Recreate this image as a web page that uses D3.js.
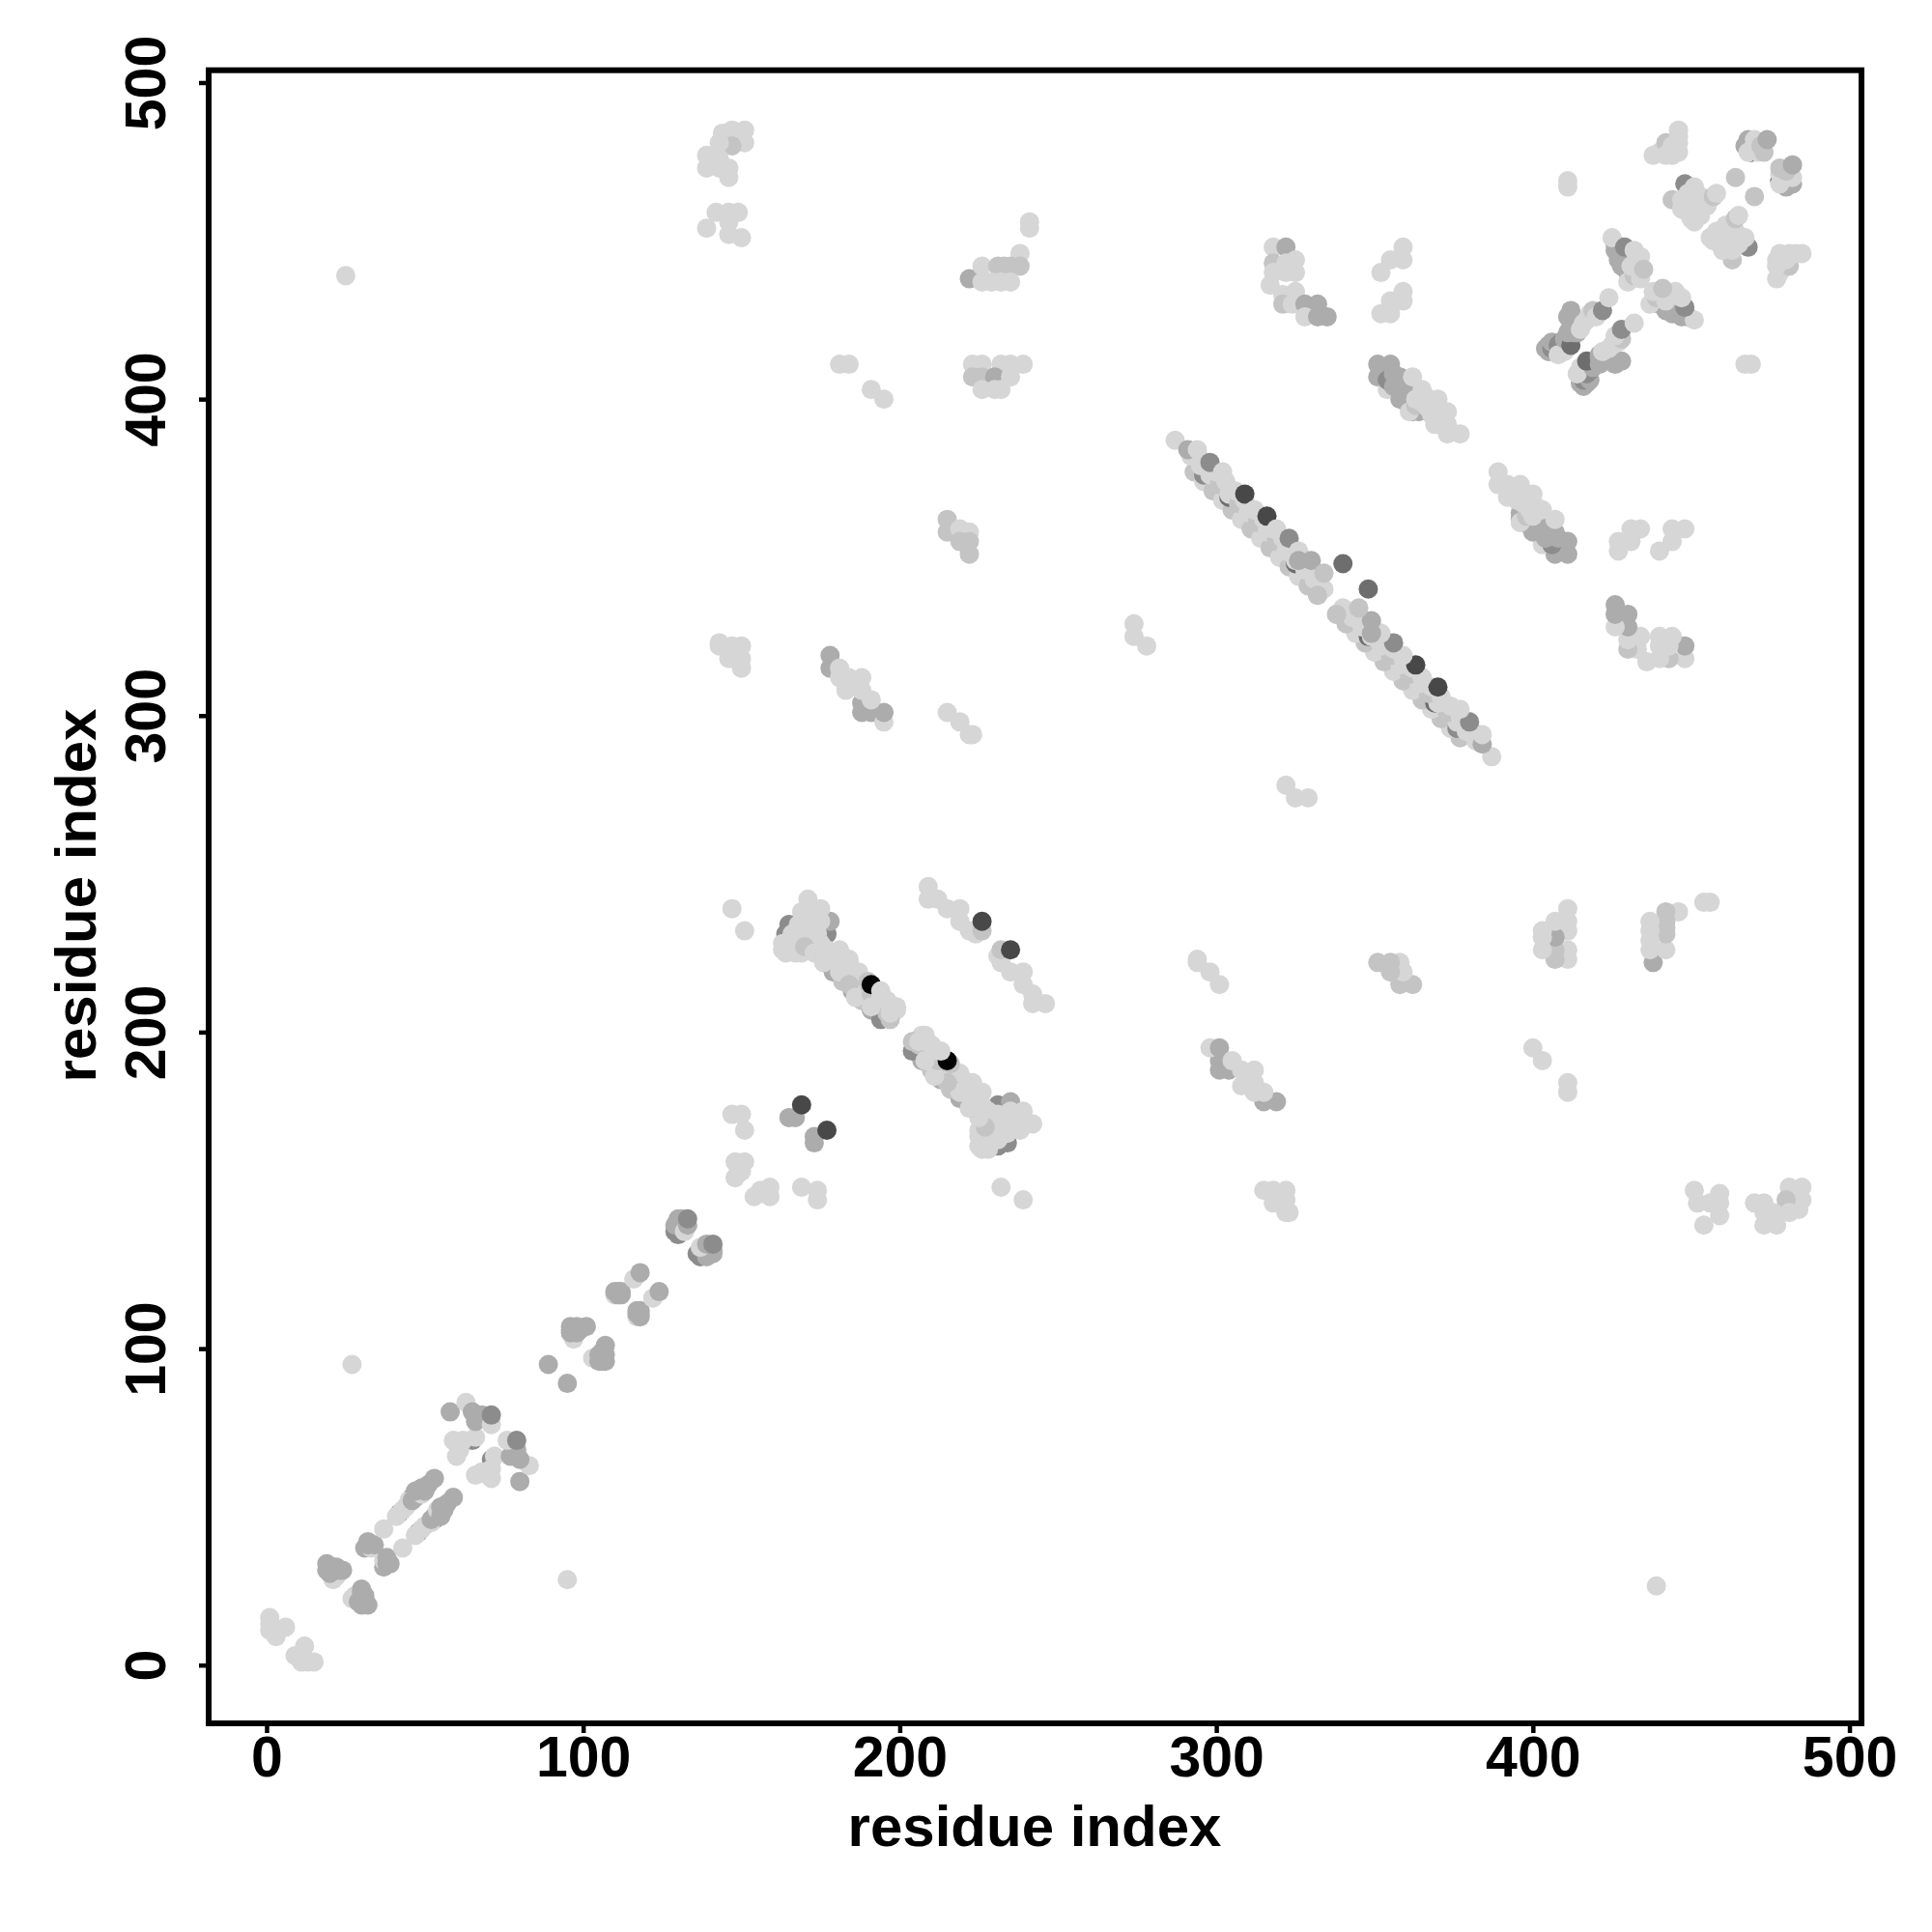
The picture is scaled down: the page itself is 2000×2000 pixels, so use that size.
<!DOCTYPE html>
<html>
<head>
<meta charset="utf-8">
<script src="https://cdn.jsdelivr.net/npm/d3@7/dist/d3.min.js"></script>
<style>
html,body{margin:0;padding:0;background:#fff}
svg{display:block}
text{font-family:"Liberation Sans",Arial,sans-serif;font-weight:bold;fill:#000}
</style>
</head>
<body>
<svg id="chart" width="2000" height="2000"></svg>
<script>
// grey levels of the contact marks
const L=214, M=196, A=172, G=140, D=110, K=72, B=4;

// each contact: [residue i, residue j, grey]; the map is symmetric so (j, i) is drawn too
const nTerminal=[[1,15,L],[1,13,L],[1,11,L],[3,9,L],[6,12,L]];
const helix20=[[21,27,L],[22,28,L],[21,29,L],[22,29,L],[19,32,A],[20,29,A],[20,30,A],[21,31,A],[22,31,A],[23,30,A],[24,30,A],[19,30,A]];
const strand30=[[31,37,A],[33,37,L],[32,38,A],[34,38,A],[32,39,A],[37,43,L],[42,48,A],[43,49,L],[41,47,L],[46,53,D],[44,50,L],[45,52,L],[47,53,A],[46,52,A],[49,54,L],[47,55,A],[50,55,A],[49,56,A],[51,57,A],[53,59,A]];
const strand60=[[65,71,G],[59,71,L],[60,70,L],[61,68,L],[62,71,L],[60,66,L],[66,72,L],[58,80,A],[63,83,L],[66,77,A],[65,80,A],[68,79,A],[71,76,L],[71,79,G]];
const strand90=[[89,95,A],[27,95,L],[96,107,A],[98,107,A],[97,103,L],[97,104,L],[97,105,L],[96,105,A],[98,105,A],[99,106,A],[96,106,A],[101,107,A]];
const strand110=[[110,117,L],[111,117,A],[110,118,A],[111,118,A],[112,117,A],[112,118,A],[116,122,L],[118,124,A]];
const strand130=[[129,137,G],[130,136,G],[130,137,G],[129,139,A],[130,141,A],[131,141,A],[132,137,L],[133,139,A],[133,141,G]];
const cluster150=[[147,174,L],[150,174,L],[151,169,L],[148,159,L],[151,159,L],[148,154,L],[150,156,L],[149,157,L],[165,173,A],[167,173,A],[169,177,K],[147,239,L],[151,232,L]];
const sheet165Blob=[[164,231,G],[165,234,G],[171,231,G],[177,231,G],[178,235,A],[163,226,L],[166,226,L],[163,228,L],[164,225,L],[167,225,L],[166,228,L],[168,228,L],[166,231,L],[169,231,L],[169,225,L],[172,228,L],[168,234,L],[170,235,L],[169,238,L],[171,242,L],[172,238,L],[173,235,L],[175,235,L],[174,231,L],[175,228,L],[175,239,L],[170,227,M],[173,225,L]];
const sheet165Lower=[[176,222,M],[179,219,A],[182,216,M],[185,213,A],[188,210,M],[191,207,A],[194,204,G]];
const sheet165Middle=[[178,224,M],[181,221,L],[184,218,M],[187,215,L],[190,212,M],[193,209,L],[196,206,M]];
const sheet165Upper=[[181,225,L],[184,222,L],[187,219,L],[190,216,M],[196,210,L],[199,207,L]];
const sheet165Rest=[[177,226,L],[176,222,L],[181,226,L],[184,223,L],[181,219,L],[184,215,M],[186,211,L],[191,212,M],[194,212,L],[191,208,L],[197,204,M],[197,206,L],[199,208,L],[191,215,B],[194,213,L]];
const sheet210=[[209,246,L],[209,242,L],[212,242,L],[215,239,L],[219,239,L],[219,235,L],[222,232,L],[224,231,L],[226,232,M],[226,235,K]];
const cluster140=[[151,485,L],[151,481,L],[147,485,L],[144,484,L],[147,480,M],[143,481,L],[139,477,L],[139,473,L],[143,476,L],[143,473,L],[146,473,L],[146,470,L],[142,459,L],[146,459,L],[149,459,L],[139,454,L],[146,456,L],[146,452,L],[150,451,L]];
const cluster225=[[241,456,L],[241,454,L],[238,446,L],[222,438,A],[226,442,L],[231,442,M],[233,442,M],[235,442,M],[238,442,M],[226,437,L],[229,437,L],[232,437,L],[235,437,L],[181,411,L],[184,411,L],[191,403,L],[195,400,L],[223,411,L],[226,411,L],[232,411,L],[235,411,L],[239,411,L],[223,407,M],[226,407,M],[230,407,A],[235,407,L],[226,403,L],[230,403,L],[232,403,L],[25,439,L]];
const cluster320=[[318,448,L],[322,448,A],[318,443,M],[322,443,L],[325,444,L],[318,440,L],[322,440,L],[325,440,L],[317,436,L],[325,434,L],[321,433,L],[321,430,M],[324,430,L],[328,430,A],[332,430,A],[328,426,L],[332,426,A],[335,426,A],[359,448,L],[359,444,L],[355,444,L],[352,440,L],[359,434,L],[359,431,L],[355,431,L],[355,427,L],[352,427,L]];
const sheet350=[[351,411,A],[351,407,A],[352,409,A],[353,409,A],[354,403,L],[355,411,A],[354,406,G],[356,408,A],[356,404,A],[358,407,A],[358,400,A],[358,403,A],[359,401,A],[360,405,A],[360,399,A],[361,403,A],[362,396,A],[364,396,A],[361,396,L],[363,398,M],[363,400,L],[362,407,L],[365,403,L],[366,401,L],[365,399,L],[367,397,L],[370,400,L],[370,397,L],[368,395,L],[371,394,L],[373,396,L],[369,392,L],[373,392,L],[373,389,L],[377,389,L]];
const cluster180=[[178,319,A],[178,315,A],[188,304,A],[188,301,A],[191,301,A],[195,298,L],[195,301,A],[181,315,L],[181,312,L],[184,312,L],[186,311,L],[185,310,L],[188,312,L],[188,308,L],[183,308,L],[191,305,L]];
const cluster215=[[215,362,M],[215,358,M],[219,359,L],[222,358,L],[219,355,M],[222,355,M],[222,351,M],[143,323,L],[143,322,L],[147,322,L],[150,322,L],[146,318,L],[150,318,L],[150,315,L],[215,301,L],[219,298,L],[222,294,L],[223,294,L],[278,322,L],[274,325,L],[274,329,L]];
const sheet290Lower=[[293,377,M],[296,374,L],[299,371,M],[302,368,L],[305,365,M],[308,362,L],[311,359,M],[314,356,L],[317,353,M],[320,350,L],[323,347,M],[326,344,L],[329,341,M],[332,338,M]];
const sheet290Slivers=[[296,376,G],[304,369,D],[313,362,D],[320,355,K],[325,348,D]];
const sheet290Middle=[[292,382,L],[295,379,L],[298,376,L],[301,373,M],[304,370,L],[307,367,M],[310,364,L],[313,361,M],[316,358,L],[319,355,M],[322,352,L],[325,349,L],[328,346,L],[331,343,L],[334,340,L]];
const sheet290Upper=[[294,383,L],[297,380,L],[300,377,L],[303,374,L],[306,371,L],[309,368,L],[312,365,L],[315,362,L],[318,359,L],[321,356,L],[324,353,L],[327,350,L],[330,347,L],[333,344,L]];
const sheet290Top=[[287,387,L],[291,384,A],[294,384,L],[298,380,G],[302,377,L],[309,370,K],[312,365,L],[316,363,K],[319,359,L],[323,356,G],[326,352,L],[326,349,A],[330,349,A],[332,338,M],[334,345,M],[340,348,D]];
const strand405=[[404,416,A],[405,417,A],[405,415,A],[406,416,G],[406,418,A],[408,417,G],[409,418,G],[408,414,L],[410,415,L],[410,419,A],[412,417,D],[411,421,A],[412,428,A],[411,426,A],[412,425,A],[412,423,A],[413,423,A],[413,421,A],[414,421,A],[415,422,L],[416,424,L],[417,425,L],[418,427,L],[419,428,M],[420,426,L],[422,428,G],[424,432,L]];
const strand425=[[430,444,K],[426,447,A],[426,449,A],[425,451,L],[427,444,A],[428,446,A],[428,442,A],[429,448,G],[430,440,A],[430,437,L],[432,439,M],[434,438,L],[432,447,L],[431,442,L],[433,442,L],[434,445,L],[435,441,M]];
const strand440=[[438,477,L],[440,478,L],[442,481,M],[442,477,L],[444,480,L],[444,477,L],[446,485,L],[446,483,L],[446,478,L],[446,481,L],[444,463,M],[448,468,G],[447,463,L],[447,460,L],[449,465,L],[449,462,L],[449,459,L],[450,457,L],[451,467,L],[451,464,L],[451,459,L],[451,456,L],[453,464,L],[453,461,L],[453,458,L],[455,461,L],[457,464,M],[458,465,L]];
const strand465=[[411,469,L],[411,467,L],[464,470,M],[469,478,K],[467,480,A],[468,482,A],[468,478,L],[470,480,L],[470,482,L],[471,478,L],[472,480,M],[473,478,M],[474,482,A]];

const contacts=[nTerminal,helix20,strand30,strand60,strand90,strand110,strand130,cluster150,sheet165Blob,sheet165Lower,sheet165Middle,sheet165Upper,sheet165Rest,sheet210,cluster140,cluster225,cluster320,sheet350,cluster180,cluster215,sheet290Lower,sheet290Slivers,sheet290Middle,sheet290Upper,sheet290Top,strand405,strand425,strand440,strand465].flat();
const tickValues=[0,100,200,300,400,500];
const axisTitle="residue index";

const svg=d3.select("#chart");
const x=d3.scaleLinear().domain([-18.3,503.8]).range([216,1927]);
const y=d3.scaleLinear().domain([-18.4,503.9]).range([1784,72.7]);

const marks=svg.append("g");
contacts.forEach(([i,j,g])=>{
  [[i,j],[j,i]].forEach(([a,b])=>{
    marks.append("circle").attr("cx",x(a)).attr("cy",y(b)).attr("r",10)
      .attr("fill",d3.rgb(g,g,g).formatHex());
  });
});

svg.append("rect").attr("x",216).attr("y",72.7).attr("width",1711).attr("height",1711.3)
  .attr("fill","none").attr("stroke","#000").attr("stroke-width",6);

const gx=svg.append("g").attr("transform","translate(0,1784)")
  .call(d3.axisBottom(x).tickValues(tickValues).tickSize(10).tickPadding(8).tickFormat(d3.format("d")));
const gy=svg.append("g").attr("transform","translate(216,0)")
  .call(d3.axisLeft(y).tickValues(tickValues).tickSize(10).tickFormat(d3.format("d")));
[gx,gy].forEach(g=>{
  g.select(".domain").remove();
  g.selectAll(".tick line").attr("stroke","#000").attr("stroke-width",4.5);
  g.selectAll("text").style("font-size","59px").style("font-family","'Liberation Sans'").style("font-weight","bold").attr("fill","#000");
});
gx.selectAll("text").attr("dy",null).attr("y",55);
gy.selectAll("text").attr("dy",null)
  .attr("text-anchor","middle").attr("transform","translate(-45,0) rotate(-90)").attr("x",0).attr("y",0);

svg.append("text").attr("x",1071).attr("y",1911).attr("text-anchor","middle").style("font-size","60px").text(axisTitle);
svg.append("text").attr("transform","translate(99,927) rotate(-90)").attr("text-anchor","middle").style("font-size","60px").text(axisTitle);
</script>
</body>
</html>
